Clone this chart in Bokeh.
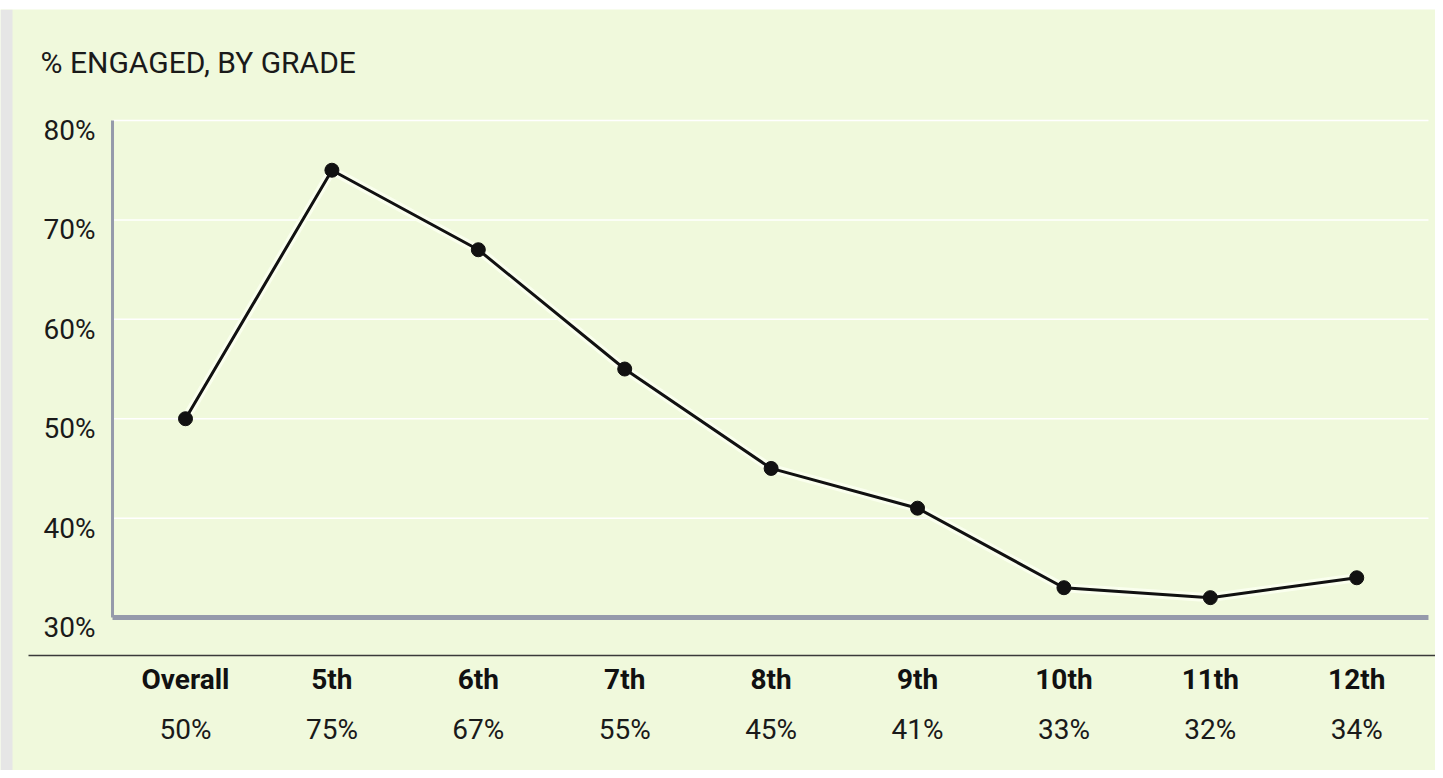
from bokeh.plotting import figure
from bokeh.models import Range1d, ColumnDataSource
from bokeh.core.properties import value
from bokeh.embed import file_html
from bokeh.resources import INLINE

# ---- data ----
grades = ["Overall", "5th", "6th", "7th", "8th", "9th", "10th", "11th", "12th"]
engaged = [50, 75, 67, 55, 45, 41, 33, 32, 34]
y_ticks = [30, 40, 50, 60, 70, 80]
y_tick_labels = ["30%", "40%", "50%", "60%", "70%", "80%"]
title_text = "% ENGAGED, BY GRADE"

# ---- layout / style ----
W, H = 1435, 770
BG = "#f0f9dc"
AXIS_GRAY = "#959aab"
FONT = "Roboto"

xs = list(range(len(grades)))
y_min, y_max = min(y_ticks), max(y_ticks)

X0, X1 = -1.2637, 8.538
p = figure(width=W, height=H, output_backend="svg", toolbar_location=None,
           x_range=Range1d(X0, X1), y_range=Range1d(14.61, 91.17),
           min_border_left=0, min_border_right=0, min_border_top=9, min_border_bottom=0)
p.axis.visible = False
p.grid.visible = False
p.outline_line_color = None
p.background_fill_color = BG
p.border_fill_color = "white"

# left gray strip
p.quad(left=[X0], right=[-1.1817], bottom=[14.61], top=[91.17],
       fill_color="#e6e6e6", line_color=None)

x_left, x_right = -0.4986, 8.49

# gridlines
grid_y = [t for t in y_ticks if t != y_min]
p.segment(x0=[x_left] * len(grid_y), x1=[x_right] * len(grid_y), y0=grid_y, y1=grid_y,
          line_color="white", line_width=1.5)

# axis lines
p.segment(x0=[x_left], x1=[x_left], y0=[y_min], y1=[y_max], line_color=AXIS_GRAY, line_width=3)
p.segment(x0=[x_left], x1=[x_right], y0=[y_min], y1=[y_min], line_color=AXIS_GRAY, line_width=5)

# dark separator line
p.segment(x0=[-1.0724], x1=[X1], y0=[26.18], y1=[26.18], line_color="#3a3a3a", line_width=1.5)

# y tick labels
p.text(x=[-0.615] * len(y_ticks), y=y_ticks, text=y_tick_labels,
       text_font=value(FONT), text_font_size="28px", text_color="#1a1a1a",
       text_align="right", text_baseline="middle", y_offset=10)

# title
p.text(x=[-0.99], y=[85.83], text=[title_text], text_font=value(FONT),
       text_font_size="30px", text_color="#1a1a1a", text_align="left", text_baseline="middle")

# series
src = ColumnDataSource(dict(x=xs, y=engaged, g=grades, v=[f"{v}%" for v in engaged]))
p.line("x", "y", source=src, line_color="#fbfff0", line_width=9, line_alpha=0.9)
p.line("x", "y", source=src, line_color="#111111", line_width=3)
p.scatter("x", "y", source=src, size=14, fill_color="#111111", line_color="#111111")

# category labels and values below
p.text(x="x", y=y_min, text="g", source=src, text_font=value(FONT), text_font_style="bold",
       text_font_size="28px", text_color="#111111", text_align="center", text_baseline="middle",
       y_offset=62)
p.text(x="x", y=y_min, text="v", source=src, text_font=value(FONT),
       text_font_size="28px", text_color="#1a1a1a", text_align="center", text_baseline="middle",
       y_offset=112)

open("out.html", "w").write(file_html(p, INLINE))
